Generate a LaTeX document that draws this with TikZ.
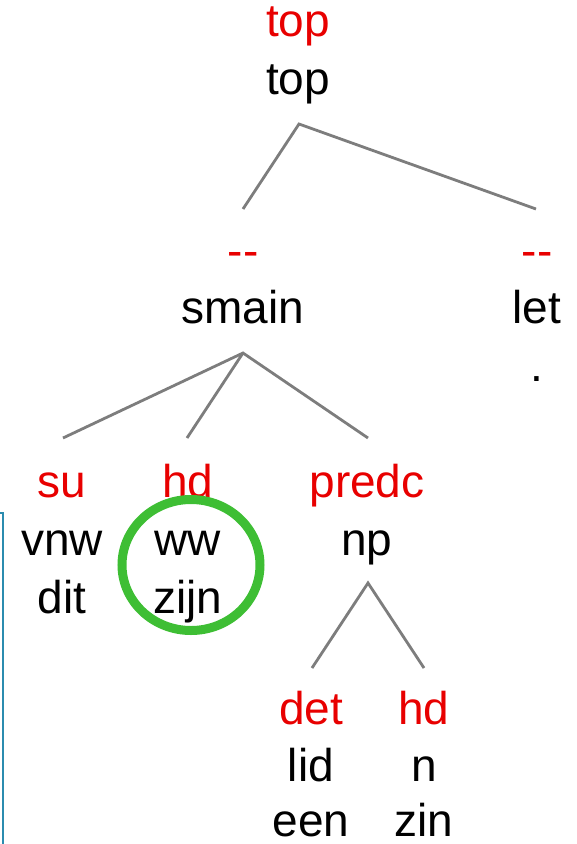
\documentclass[tikz,border=0pt]{standalone}
\usepackage{fontspec}
\setmainfont{Liberation Sans}
\definecolor{rel}{RGB}{232,0,0}
\definecolor{edge}{RGB}{125,125,125}
\definecolor{ringgreen}{RGB}{62,190,52}
\definecolor{framecol}{RGB}{43,140,175}
\begin{document}
\begin{tikzpicture}[x=1pt,y=-1pt,
  lbl/.style={anchor=base,inner sep=0pt,font=\fontsize{46}{54}\selectfont},
  relbl/.style={lbl,text=rel},
  branch/.style={draw=edge,line width=2.8pt}]
\useasboundingbox (0,0) rectangle (577,844);

% frame edge on the left
\draw[draw=framecol,line width=2.4pt] (0,513) -- (3,513) -- (3,846);

% root
\node[relbl] (toprel) at (298,36) {top};
\node[lbl] (topcat) at (298,94) {top};
\coordinate (topfork) at (299,124);

% level 1
\node[relbl] (smrel) at (243,266) {-{}-};
\node[lbl] (smcat) at (243,323) {smain};
\coordinate (smtop) at (243,209);
\coordinate (smfork) at (243,353);

\node[relbl] (letrel) at (537,266) {-{}-};
\node[lbl] (letcat) at (537,323) {let};
\node[lbl] (letword) at (537,381) {.};
\coordinate (lettop) at (536,209);

% level 2
\node[relbl] (surel) at (62,497) {su};
\node[lbl] (sucat) at (62,555) {vnw};
\node[lbl] (suword) at (62,613) {dit};
\coordinate (sutop) at (63,438);

\node[relbl] (hdrel) at (188,497) {hd};
\node[lbl] (hdcat) at (188,555) {ww};
\node[lbl] (hdword) at (188,613) {zijn};
\coordinate (hdtop) at (187,438);

\node[relbl] (prrel) at (367,497) {predc};
\node[lbl] (prcat) at (367,555) {np};
\coordinate (prtop) at (368,438);
\coordinate (prfork) at (368,583);

% level 3
\node[relbl] (detrel) at (311,724) {det};
\node[lbl] (detcat) at (311,781) {lid};
\node[lbl] (detword) at (311,836) {een};
\coordinate (dettop) at (312,668);

\node[relbl] (nhdrel) at (424,724) {hd};
\node[lbl] (nhdcat) at (424,781) {n};
\node[lbl] (nhdword) at (424,836) {zin};
\coordinate (nhdtop) at (424,668);

% branches
\draw[branch] (smtop) -- (topfork) -- (lettop);
\draw[branch] (sutop) -- (smfork) -- (prtop);
\draw[branch] (hdtop) -- (smfork);
\draw[branch] (dettop) -- (prfork) -- (nhdtop);

% highlighted head
\draw[draw=ringgreen,line width=9pt] (191,565) ellipse [x radius=69, y radius=65.5];
\end{tikzpicture}
\end{document}
